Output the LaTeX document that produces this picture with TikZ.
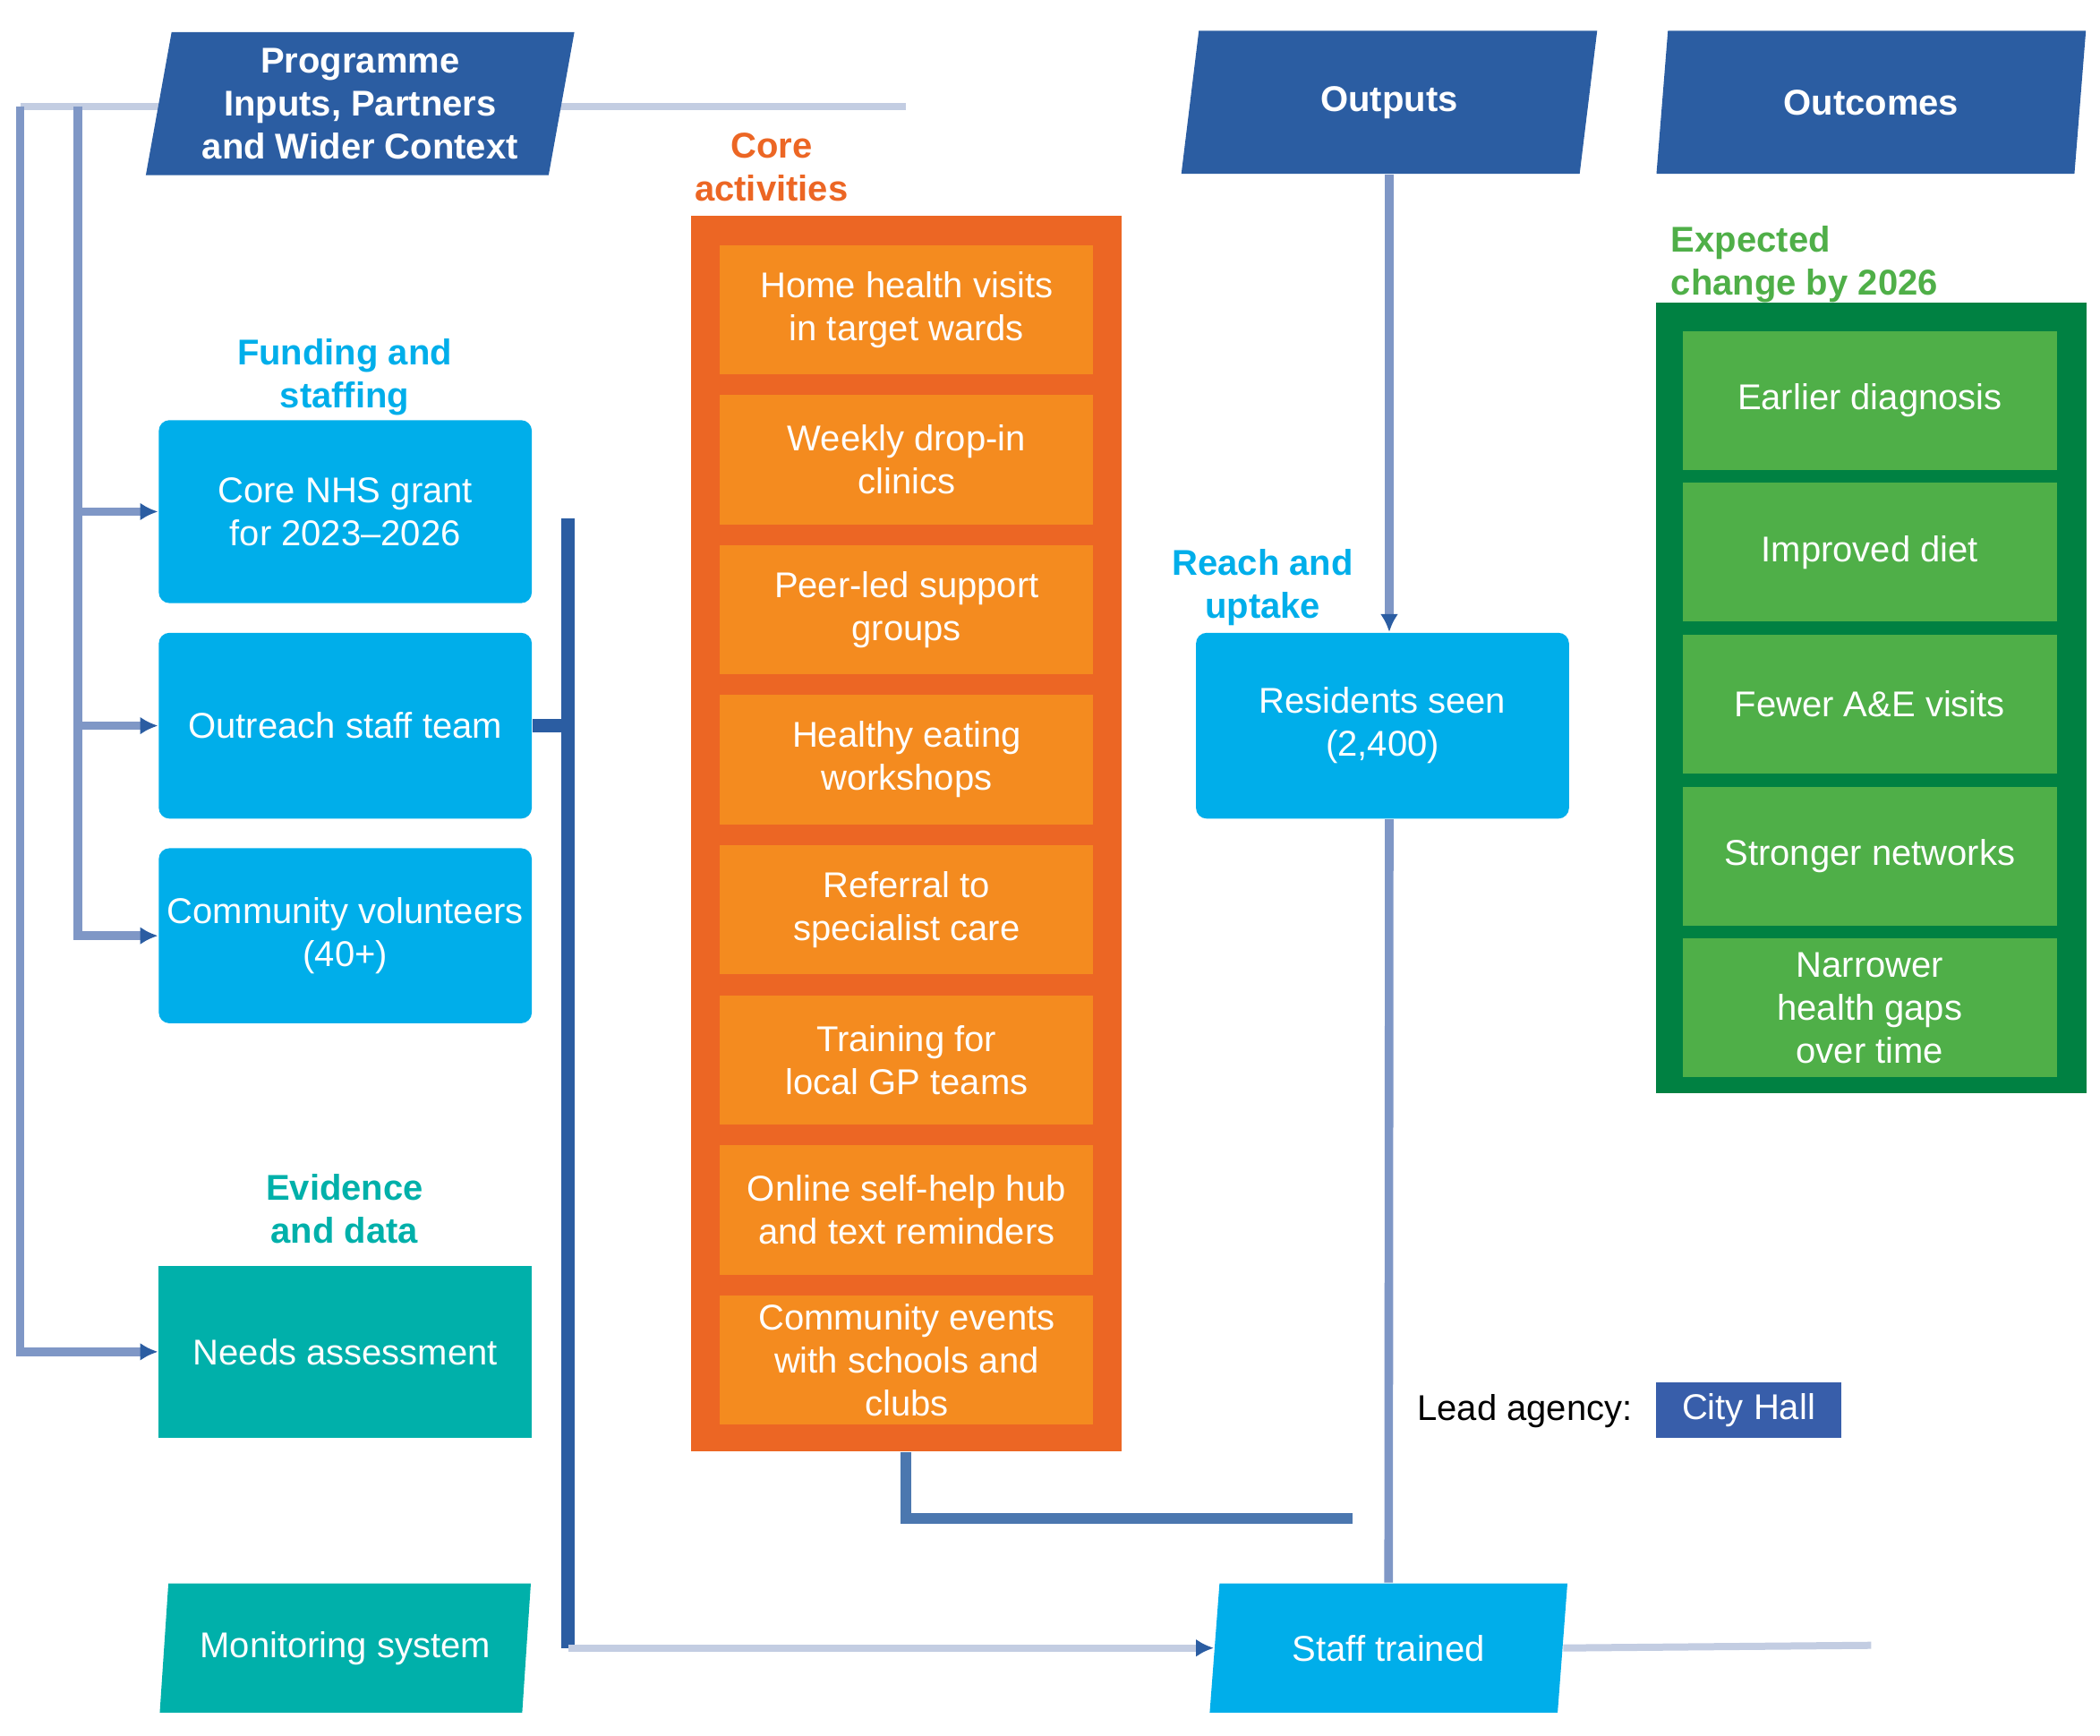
\documentclass[tikz,border=0pt]{standalone}
\usepackage{fontspec}
\setmainfont{Liberation Sans}
\usetikzlibrary{shapes.geometric,arrows.meta}

\definecolor{navy}{HTML}{2B5DA2}
\definecolor{skyc}{HTML}{00AEEA}
\definecolor{tealc}{HTML}{00B0AA}
\definecolor{actouter}{HTML}{EC6624}
\definecolor{actinner}{HTML}{F48B1F}
\definecolor{chgouter}{HTML}{008142}
\definecolor{chginner}{HTML}{4FAF48}
\definecolor{keyblue}{HTML}{385EAA}
\definecolor{linkc}{HTML}{7F97C6}
\definecolor{faintc}{HTML}{C3CDE2}
\definecolor{midc}{HTML}{4B77AF}

\begin{document}
\begin{tikzpicture}[x=0.376pt, y=-0.376pt,
  hdr/.style={trapezium, trapezium left angle=79, trapezium right angle=101,
              trapezium stretches=true, fill=navy, text=white, inner sep=0pt,
              minimum height=39.9pt, align=center,
              font=\bfseries\fontsize{10}{12}\selectfont},
  inbox/.style={rectangle, rounded corners=3pt, fill=skyc, text=white,
                minimum width=104.2pt, inner xsep=0.5pt, align=center,
                font=\fontsize{10}{12}\selectfont},
  evbox/.style={rectangle, fill=tealc, text=white, minimum width=104.2pt,
                align=center, font=\fontsize{10}{12}\selectfont},
  slantbox/.style={trapezium, trapezium left angle=78, trapezium right angle=102,
                   trapezium stretches=true, text=white, inner sep=0pt,
                   minimum height=36.1pt, align=center,
                   font=\fontsize{10}{12}\selectfont},
  actframe/.style={rectangle, fill=actouter, minimum width=120.3pt,
                   minimum height=345.2pt},
  actbox/.style={rectangle, fill=actinner, text=white, minimum width=104.2pt,
                 minimum height=36.1pt, inner sep=0pt, align=center,
                 font=\fontsize{10}{12}\selectfont},
  chgframe/.style={rectangle, fill=chgouter, minimum width=120.3pt,
                   minimum height=220.7pt},
  chgbox/.style={rectangle, fill=chginner, text=white, minimum width=104.5pt,
                 minimum height=38.7pt, inner sep=0pt, align=center,
                 font=\fontsize{10}{12}\selectfont},
  lbl/.style={align=center, font=\bfseries\fontsize{10}{12}\selectfont},
  keytag/.style={rectangle, fill=keyblue, text=white, minimum width=51.9pt,
                 minimum height=15.4pt, inner sep=0pt,
                 font=\fontsize{10}{12}\selectfont},
  link/.style={draw=linkc, line width=2.4pt},
  faint/.style={draw=faintc, line width=2pt},
  trunk/.style={draw=navy, line width=3.6pt},
  tip/.style={-{Latex[length=5pt,width=5pt,color=navy]}},
]
\useasboundingbox (0,0) rectangle (1560,1289);

% Feed line (drawn first, behind the headers)
\coordinate (hub) at (673,79);
\coordinate (busL) at (15,79);
\coordinate (busM) at (58,79);
\coordinate (trunk) at (422,385);
\coordinate (mrg) at (1005,1128);
\coordinate (tail) at (1390,1222);
\draw[faint] (hub) -- (busL);

% Headers
\node[hdr, minimum width=120.7pt] (hdrL) at (267.5,77)
  {Programme\\Inputs, Partners\\and Wider Context};
\node[hdr, minimum width=116.6pt] (hdrM) at (1032,76) {Outputs};
\node[hdr, minimum width=120.3pt] (hdrR) at (1390,76) {Outcomes};

% Inputs (left)
\node[lbl, text=skyc] (lblIn) at (256,280) {Funding and\\staffing};
\node[inbox, minimum height=51.1pt] (inA) at (256.5,380)
  {Core NHS grant\\for 2023--2026};
\node[inbox, minimum height=51.9pt] (inB) at (256.5,539) {Outreach staff team};
\node[inbox, minimum height=48.9pt] (inC) at (256.5,695)
  {Community volunteers\\(40+)};

\node[lbl, text=tealc] (lblEv) at (256,898) {Evidence\\and data};
\node[evbox, minimum height=48.1pt] (ev1) at (256.5,1004) {Needs assessment};
\node[slantbox, fill=tealc, minimum width=104.2pt] (ev2) at (256.5,1224)
  {Monitoring system};

% Activities (orange column)
\node[lbl, text=actouter] (lblAct) at (573,124) {Core\\activities};
\node[actframe] (actcol) at (673,619) {};
\foreach \i/\txt in {1/{Home health visits\\in target wards},
                     2/{Weekly drop-in\\clinics},
                     3/{Peer-led support\\groups},
                     4/{Healthy eating\\workshops},
                     5/{Referral to\\specialist care},
                     6/{Training for\\local GP teams},
                     7/{Online self-help hub\\and text reminders},
                     8/{Community events\\with schools and\\clubs}}
  \node[actbox] (act\i) at (673.5,{230+111.43*(\i-1)}) {\txt};

% Outputs (middle)
\node[lbl, text=skyc] (lblReach) at (938,436) {Reach and\\uptake};
\node[inbox, minimum height=51.9pt] (outA) at (1027,539)
  {Residents seen\\(2,400)};
\node[slantbox, fill=skyc, minimum width=100.4pt] (outB) at (1031.5,1224)
  {Staff trained};

% Outcomes (green column)
\node[lbl, text=chginner, anchor=west, align=left] (lblOut) at (1232,196)
  {Expected\\change by 2026};
\node[chgframe] (chgcol) at (1390,518.5) {};
\foreach \i/\txt in {1/{Earlier diagnosis},
                     2/{Improved diet},
                     3/{Fewer A\&E visits},
                     4/{Stronger networks},
                     5/{Narrower\\health gaps\\over time}}
  \node[chgbox] (chg\i) at (1389,{297.4+112.8*(\i-1)}) {\txt};

% Key
\node[anchor=east, font=\fontsize{10}{12}\selectfont] (keytxt) at (1222,1048)
  {Lead agency:};
\node[keytag] (keyhall) at (1299,1047.5) {City Hall};

% Connectors
\draw[link, tip] (busL) |- (ev1.west);
\foreach \b in {inA,inB,inC}
  \draw[link, tip] (busM) |- (\b.west);
\draw[trunk] (inB.east) -- (inB.east -| trunk);
\draw[trunk] (trunk) -- (trunk |- outB.west);
\draw[faint, tip] (trunk |- outB.west) -- (outB.west);
\draw[link, tip] (hdrM.south) -- (hdrM.south |- outA.north);
\draw[link] (hdrM.south |- outA.south) -- (outB.north);
\draw[draw=midc, line width=3pt] (actcol.south) |- (mrg);
\draw[faint] (outB.east) -- (tail);

\end{tikzpicture}
\end{document}
